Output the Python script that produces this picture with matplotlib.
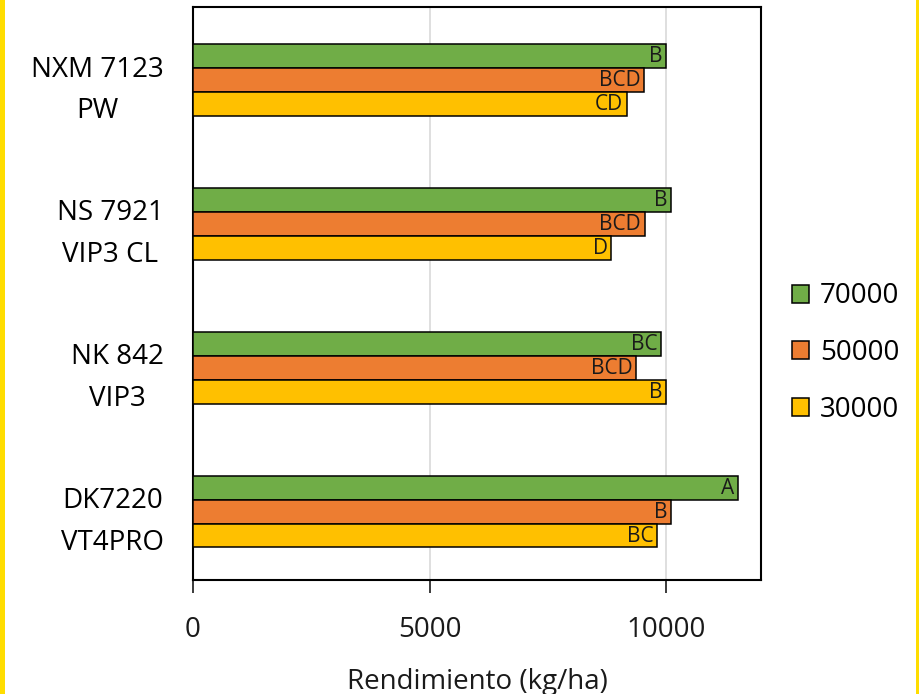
import matplotlib
matplotlib.use("Agg")
import matplotlib.pyplot as plt
from matplotlib.patches import Rectangle, Patch
import numpy as np

plt.rcParams['font.family'] = ['Open Sans', 'DejaVu Sans']

categories = ["DK7220\nVT4PRO", "NK 842\nVIP3", "NS 7921\nVIP3 CL", "NXM 7123\nPW"]
series_names = ["70000", "50000", "30000"]
vals_70000 = [11510, 9895, 10105, 10000]
vals_50000 = [10090, 9365, 9540, 9520]
vals_30000 = [9810, 9995, 8835, 9160]
labels_70000 = ["A", "BC", "B", "B"]
labels_50000 = ["B", "BCD", "BCD", "BCD"]
labels_30000 = ["BC", "B", "D", "CD"]
colors = ["#70AD47", "#ED7D31", "#FFC000"]

fig = plt.figure(figsize=(9.2, 6.94), dpi=100)
ax = fig.add_axes([193/920, 1-580/694, (761-193)/920, (580-7)/694])

y = np.arange(len(categories))
h = 1/6
series = [(vals_70000, labels_70000), (vals_50000, labels_50000), (vals_30000, labels_30000)]
offsets = [h, 0, -h]
for (vals, labs), off, col, name in zip(series, offsets, colors, series_names):
    ax.barh(y + off, vals, height=h, color=col, edgecolor='black', linewidth=1.1,
            zorder=3, label=name)
    for yi, v, t in zip(y, vals, labs):
        ax.annotate(t, (v, yi + off), xytext=(-2.5, -0.5), textcoords='offset points',
                    ha='right', va='center', fontsize=15, color='#1a1a1a', zorder=4)

ax.set_xlim(0, 12000)
ax.set_ylim(-0.476, 3.508)
ax.set_xticks([0, 5000, 10000])
ax.set_xticklabels(["0", "5000", "10000"])
ax.set_yticks(y)
ax.set_yticklabels(categories, fontsize=20, linespacing=1.65, multialignment='center')
ax.tick_params(axis='y', length=0, pad=21)
ax.tick_params(axis='x', direction='out', length=9, width=1.2, pad=17, labelsize=20,
               colors='#1a1a1a')
ax.xaxis.grid(True, color='#d9d9d9', linewidth=1.2, zorder=0)
ax.set_axisbelow(True)
for s in ax.spines.values():
    s.set_color('black')
    s.set_linewidth(1.5)
ax.set_xlabel("Rendimiento (kg/ha)", fontsize=20, labelpad=17, color='#1a1a1a')

handles = [Patch(facecolor=c, edgecolor='black', linewidth=1.1) for c in colors]
leg = ax.legend(handles, series_names, loc='center left', bbox_to_anchor=(1.03, 0.396),
                frameon=False, fontsize=20, handlelength=0.6, handleheight=0.6,
                handletextpad=0.4, labelspacing=1.03, borderpad=0)

# yellow frame at the left and right edges
fig.patches.append(Rectangle((0, 0), 5/920, 1, transform=fig.transFigure,
                             facecolor='#FFDD00', edgecolor='none', zorder=10))
fig.patches.append(Rectangle((1-4/920, 0), 4/920, 1, transform=fig.transFigure,
                             facecolor='#FFDD00', edgecolor='none', zorder=10))

fig.savefig("out.png", dpi=100)
